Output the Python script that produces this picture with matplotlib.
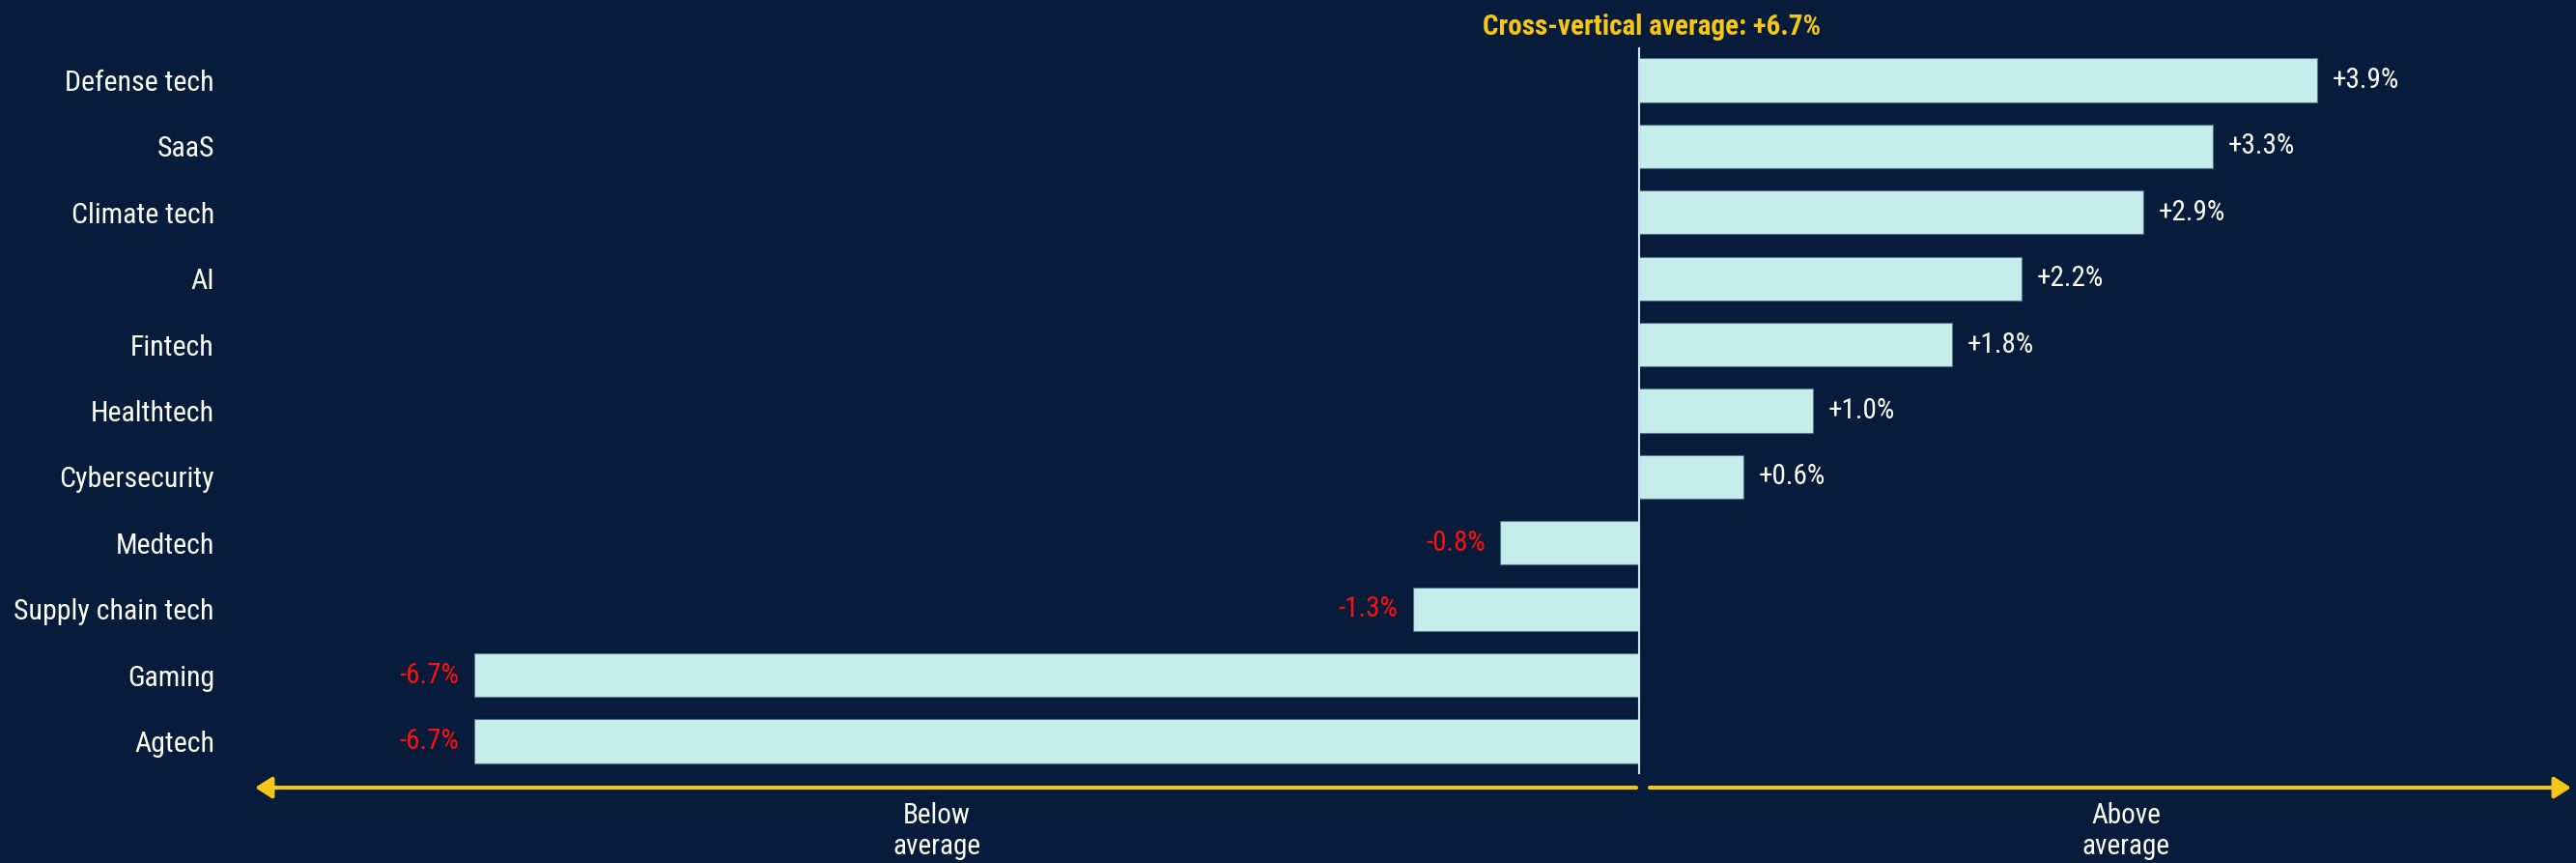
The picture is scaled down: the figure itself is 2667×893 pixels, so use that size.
import matplotlib
matplotlib.use("Agg")
import matplotlib.pyplot as plt

categories = ["Defense tech", "SaaS", "Climate tech", "AI", "Fintech", "Healthtech",
              "Cybersecurity", "Medtech", "Supply chain tech", "Gaming", "Agtech"]
values = [3.9, 3.3, 2.9, 2.2, 1.8, 1.0, 0.6, -0.8, -1.3, -6.7, -6.7]
title_text = "Cross-vertical average: +6.7%"
below_text = "Below\naverage"
above_text = "Above\naverage"

BG = "#061c3a"
BAR = "#c5edeb"
EDGE = "#4f7488"
YELLOW = "#f5c518"
RED = "#ff1010"
WHITE = "#ffffff"
ZERO = "#d3e6f5"

plt.rcParams['font.family'] = ['Roboto Condensed', 'Liberation Sans Narrow', 'Roboto', 'DejaVu Sans']

W, H = 2667, 893
fig = plt.figure(figsize=(W / 100, H / 100), dpi=100, facecolor=BG)

zero_px = 1697
scale = 180.0
left_px = 240
row0_px = 83
row_step = 68.4
ax = fig.add_axes([left_px / W, 0, 1 - left_px / W, 1])
ax.set_facecolor(BG)
ax.set_xlim((left_px - zero_px) / scale, (W - zero_px) / scale)
n = len(categories)
ax.set_ylim((H - row0_px) / row_step, -row0_px / row_step)

ypos = list(range(n))
bars = ax.barh(ypos, values, height=0.66, color=BAR, edgecolor=EDGE, linewidth=0.8, zorder=2)

labels = [("+" if v > 0 else "") + f"{v:.1f}%" for v in values]
texts = ax.bar_label(bars, labels=labels, padding=11, fontsize=21)
for t, v in zip(texts, values):
    t.set_color(WHITE if v > 0 else RED)

ax.set_yticks(ypos)
ax.set_yticklabels(categories, fontsize=21.5, color=WHITE)
ax.tick_params(axis='y', length=0, pad=13)
ax.set_xticks([])
for s in ax.spines.values():
    s.set_visible(False)

ax.axvline(0, ymin=1 - 800 / H, ymax=1 - 50 / H, color=ZERO, lw=1.5, zorder=3)

fig.text(1710 / W, 1 - 28 / H, title_text, ha='center', va='center', fontsize=21,
         fontweight='bold', color=YELLOW)

arrow_y = 1 - 815 / H
aprops = dict(arrowstyle='-|>,head_length=0.55,head_width=0.35', color=YELLOW, lw=3,
              mutation_scale=19, shrinkA=0, shrinkB=0)
fig.add_artist(matplotlib.patches.FancyArrowPatch((1694 / W, arrow_y), (264 / W, arrow_y),
                                                  transform=fig.transFigure, **aprops))
fig.add_artist(matplotlib.patches.FancyArrowPatch((1708 / W, arrow_y), (2662 / W, arrow_y),
                                                  transform=fig.transFigure, **aprops))

fig.text(970 / W, 1 - 860 / H, below_text, ha='center', va='center', fontsize=21,
         color=WHITE, linespacing=1.2)
fig.text(2201 / W, 1 - 860 / H, above_text, ha='center', va='center', fontsize=21,
         color=WHITE, linespacing=1.2)

fig.savefig("out.png", dpi=100, facecolor=BG)
